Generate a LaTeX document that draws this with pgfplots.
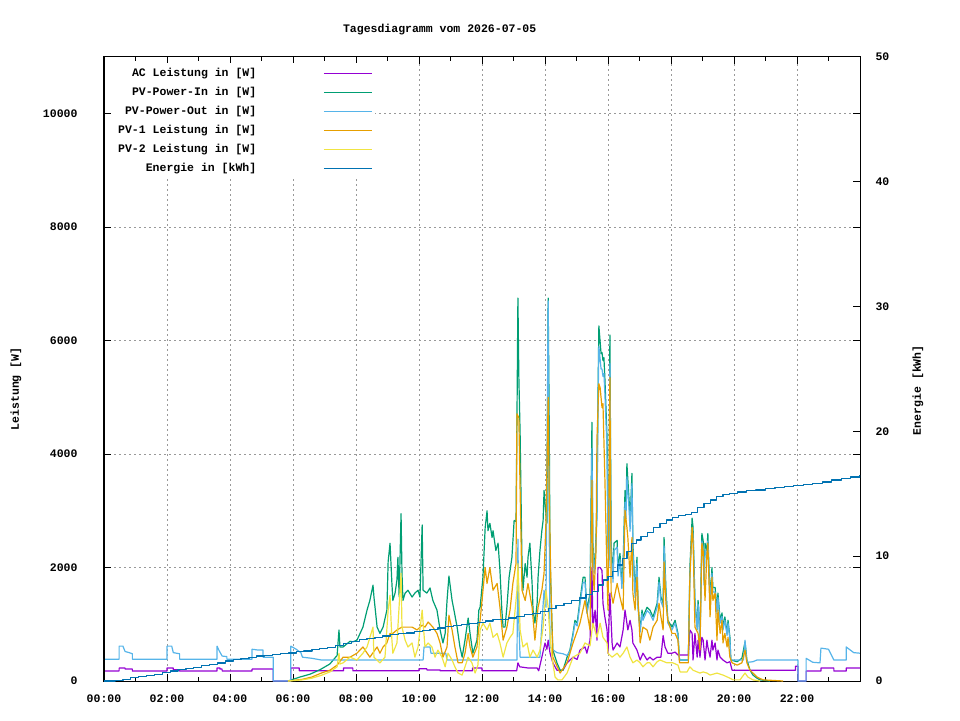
\documentclass[border=0pt]{standalone}
\usepackage{fontspec}
\usepackage{pgfplots}
\pgfplotsset{compat=1.18}
\newfontfamily\gp{Liberation Mono}
\newcommand\gpf{\gp\bfseries\fontsize{11.5}{13}\selectfont}
\definecolor{cAC}{HTML}{9400D3}
\definecolor{cIn}{HTML}{009E73}
\definecolor{cOut}{HTML}{56B4E9}
\definecolor{cPA}{HTML}{E69F00}
\definecolor{cPB}{HTML}{F0E442}
\definecolor{cEn}{HTML}{0072B2}
\pgfplotsset{
  gpbase/.style={
    at={(104pt,39pt)}, anchor=south west, scale only axis,
    width=756pt, height=624pt, xmin=0, xmax=24,
    scaled x ticks=false, scaled y ticks=false,
    tick align=inside, major tick length=7pt, minor tick length=4pt,
    every tick/.style={black, line width=1pt},
    axis line style={line width=1pt},
    tick label style={font=\gpf},
    label style={font=\gpf},
    every axis plot/.append style={no markers, line width=1.2pt, line join=round},
  }
}
\begin{document}
\begin{tikzpicture}
\path[use as bounding box] (0,0) rectangle (960pt,720pt);
\begin{axis}[gpbase,
  ymin=0, ymax=11000,
  xtick={0,2,...,22},
  xticklabels={00:00,02:00,04:00,06:00,08:00,10:00,12:00,14:00,16:00,18:00,20:00,22:00},
  minor xtick={1,3,...,23},
  ytick={0,2000,4000,6000,8000,10000},
  yticklabels={0,2000,4000,6000,8000,10000},
  yticklabel style={xshift=-23pt},
  xticklabel style={yshift=-10pt},
  grid=major,
  major grid style={black!40, line width=1pt, dash pattern=on 2pt off 3pt},
  title={Tagesdiagramm vom 2026-07-05},
  title style={font=\gpf, at={(axis description cs:0.444,1.035)}, anchor=center},
  ylabel={Leistung [W]},
  ylabel style={at={(axis description cs:-0.1164,0.468)}, anchor=center},
  legend plot pos=right, legend cell align=right,
  legend image code/.code={\draw[#1,line width=1.2pt] (0pt,0pt) -- (48pt,0pt);},
  legend style={at={(axis description cs:0,1)}, anchor=north west, xshift=9pt, yshift=-6pt,
    fill=white, draw=none, font=\gpf, inner sep=3pt, row sep=4.5pt, column sep=65pt,
    nodes={inner ysep=2pt, text height=8pt, text depth=2.5pt}},
]
% AC Leistung
\addplot[cAC] coordinates {(0,176)(0.48,176)(0.48,229)(0.67,229)(0.67,210)(0.9,210)(0.9,176)(2.0,176)(2.0,229)(2.2,229)(2.2,200)(2.4,200)(2.4,176)(3.59,176)(3.59,229)(3.68,229)(3.68,210)(3.75,210)(3.75,176)(4.7,176)(4.7,210)(5.37,210)(5.37,0)(5.93,0)(5.93,229)(6.2,229)(6.2,180)(7.6,180)(7.6,229)(7.9,229)(7.9,180)(10.0,180)(10.0,215)(10.25,215)(10.25,195)(10.67,195)(10.67,180)(11.7,180)(11.7,229)(12.0,229)(12.0,180)(13.1,180)(13.14,320)(13.2,250)(13.45,230)(13.75,230)(13.8,180)(13.9,420)(14.0,670)(14.06,560)(14.1,720)(14.16,490)(14.25,320)(14.38,190)(14.57,190)(14.7,320)(14.89,420)(15.02,380)(15.11,545)(15.27,600)(15.33,490)(15.43,720)(15.49,2000)(15.52,950)(15.59,1250)(15.65,720)(15.68,2000)(15.75,2000)(15.81,1950)(15.84,1370)(15.9,1130)(15.97,900)(16.0,490)(16.06,1550)(16.13,670)(16.16,545)(16.29,670)(16.38,600)(16.48,900)(16.54,1250)(16.6,1020)(16.63,900)(16.7,1070)(16.76,900)(16.79,670)(16.92,545)(17.02,370)(17.11,490)(17.24,370)(17.33,420)(17.43,370)(17.56,420)(17.68,420)(17.75,800)(17.81,600)(17.9,490)(18.03,490)(18.13,510)(18.22,460)(18.55,460)(18.6,900)(18.67,840)(18.7,370)(18.76,840)(18.83,420)(18.86,720)(18.92,420)(18.98,770)(19.02,720)(19.08,370)(19.14,720)(19.17,600)(19.24,420)(19.3,720)(19.33,545)(19.4,670)(19.46,370)(19.49,545)(19.56,420)(19.65,370)(19.78,320)(19.87,340)(19.94,190)(21.95,190)(21.95,260)(22.03,260)(22.03,0)(22.29,0)(22.29,176)(22.76,176)(22.76,229)(23.17,229)(23.17,176)(23.56,176)(23.56,229)(24,229)};
\addlegendentry{AC Leistung in [W]}
% PV-Power-In
\addplot[cIn] coordinates {(5.84,0)(6.0,30)(6.22,70)(6.54,120)(6.86,200)(7.17,300)(7.4,450)(7.46,900)(7.49,600)(7.59,600)(7.81,700)(7.9,690)(8.03,720)(8.13,840)(8.22,950)(8.35,1250)(8.44,1420)(8.54,1690)(8.57,1480)(8.67,950)(8.76,840)(8.86,950)(8.98,1250)(9.02,2100)(9.08,2430)(9.14,1720)(9.17,1420)(9.24,1550)(9.3,1780)(9.33,2180)(9.37,1480)(9.43,2950)(9.46,1900)(9.49,1420)(9.56,1550)(9.65,1600)(9.78,1480)(9.87,1550)(9.97,1600)(10.03,1480)(10.1,2750)(10.13,1600)(10.25,1550)(10.35,1640)(10.44,1420)(10.57,1250)(10.67,900)(10.76,670)(10.83,840)(10.89,1420)(10.95,1850)(11.05,1420)(11.11,1250)(11.21,950)(11.3,600)(11.37,420)(11.46,720)(11.56,1110)(11.62,840)(11.71,490)(11.84,720)(11.9,1250)(11.94,1300)(12.03,1830)(12.1,2700)(12.16,3000)(12.19,2650)(12.25,2780)(12.32,2530)(12.35,2650)(12.44,2300)(12.51,2430)(12.57,1950)(12.63,1250)(12.67,950)(12.73,950)(12.79,1300)(12.86,1830)(12.95,2180)(13.02,2830)(13.08,2810)(13.11,4640)(13.14,6750)(13.17,5350)(13.21,4360)(13.27,2070)(13.3,1600)(13.37,2070)(13.43,1830)(13.46,2180)(13.52,2430)(13.59,1720)(13.62,1250)(13.68,1020)(13.75,1370)(13.78,1830)(13.84,2300)(13.9,2650)(13.94,2830)(13.97,3360)(14.0,3130)(14.06,2780)(14.1,6750)(14.13,4820)(14.16,2180)(14.22,1020)(14.25,545)(14.38,320)(14.48,190)(14.57,190)(14.7,420)(14.79,545)(14.89,840)(14.95,1070)(15.02,1020)(15.11,1420)(15.21,1830)(15.27,1830)(15.33,1250)(15.37,1370)(15.43,1550)(15.49,4560)(15.52,2430)(15.56,2000)(15.59,2130)(15.65,3010)(15.68,4940)(15.71,6260)(15.78,5770)(15.81,5790)(15.84,5650)(15.87,5700)(15.9,5350)(15.97,4290)(16.0,2480)(16.03,2130)(16.06,6100)(16.1,2430)(16.16,1830)(16.19,2430)(16.29,2480)(16.32,1950)(16.38,2250)(16.44,1720)(16.48,2070)(16.54,3360)(16.57,3010)(16.6,3830)(16.67,3180)(16.7,2780)(16.76,3660)(16.79,2430)(16.86,1550)(16.92,2180)(16.95,1370)(17.02,900)(17.08,1250)(17.11,1130)(17.24,1300)(17.33,1250)(17.43,1130)(17.56,1370)(17.62,1830)(17.68,1480)(17.75,1370)(17.78,2530)(17.84,1600)(17.9,1070)(18.03,950)(18.13,1070)(18.22,840)(18.27,370)(18.55,370)(18.6,2000)(18.67,2870)(18.7,2710)(18.76,1420)(18.83,950)(18.86,1420)(18.92,720)(18.98,2600)(19.02,2480)(19.05,1780)(19.08,2430)(19.14,2300)(19.17,2600)(19.24,1420)(19.3,2000)(19.33,1650)(19.4,1650)(19.46,1250)(19.49,1550)(19.56,1070)(19.62,1200)(19.65,950)(19.71,1130)(19.78,840)(19.81,1070)(19.87,770)(19.9,370)(20.1,340)(20.25,400)(20.35,690)(20.41,370)(20.51,190)(20.6,105)(20.73,50)(20.83,20)(21.05,5)(21.14,0)};
\addlegendentry{PV-Power-In in [W]}
% PV-Power-Out
\addplot[cOut] coordinates {(0,385)(0.48,385)(0.48,615)(0.6,615)(0.67,520)(0.8,500)(0.9,480)(0.9,385)(2.0,385)(2.0,615)(2.15,615)(2.2,500)(2.4,480)(2.4,385)(3.59,385)(3.59,615)(3.65,540)(3.75,440)(3.9,430)(3.9,385)(4.7,385)(4.7,560)(4.9,545)(5.05,545)(5.05,420)(5.37,420)(5.37,0)(5.93,0)(5.93,615)(6.1,560)(6.25,500)(6.3,420)(6.6,400)(6.9,370)(10.13,370)(10.16,600)(10.35,600)(10.38,490)(10.85,490)(10.89,370)(13.11,370)(13.14,2500)(13.17,1000)(13.21,420)(13.84,420)(13.9,1000)(13.97,1600)(14.03,1300)(14.1,6700)(14.13,3000)(14.16,600)(14.25,550)(14.38,500)(14.57,480)(14.7,450)(14.79,520)(14.89,800)(14.95,1020)(15.02,970)(15.11,1350)(15.21,1740)(15.27,1740)(15.33,1190)(15.37,1300)(15.43,1470)(15.49,4100)(15.52,2300)(15.56,1900)(15.59,2020)(15.65,2860)(15.68,4700)(15.71,5900)(15.78,5500)(15.81,5500)(15.84,5370)(15.87,5420)(15.9,5080)(15.97,4080)(16.0,2360)(16.03,2020)(16.06,5600)(16.1,2300)(16.16,1740)(16.19,2300)(16.29,2360)(16.32,1850)(16.38,2140)(16.44,1630)(16.48,1970)(16.54,3150)(16.57,2860)(16.6,3600)(16.67,3020)(16.7,2640)(16.76,3480)(16.79,2310)(16.86,1470)(16.92,2070)(16.95,1300)(17.02,860)(17.08,1190)(17.11,1070)(17.24,1240)(17.33,1190)(17.43,1070)(17.56,1300)(17.62,1740)(17.68,1400)(17.75,1300)(17.78,2380)(17.84,1520)(17.9,1020)(18.03,900)(18.13,1020)(18.22,800)(18.27,370)(18.55,370)(18.6,1900)(18.67,2700)(18.7,2580)(18.76,1350)(18.83,900)(18.86,1350)(18.92,690)(18.98,2470)(19.02,2360)(19.05,1690)(19.08,2310)(19.14,2190)(19.17,2470)(19.24,1350)(19.3,1900)(19.33,1570)(19.4,1570)(19.46,1190)(19.49,1470)(19.56,1020)(19.62,1140)(19.65,900)(19.71,1070)(19.78,800)(19.81,1020)(19.87,730)(19.9,370)(20.3,370)(20.35,720)(20.4,370)(20.44,330)(20.6,340)(20.73,370)(22.03,370)(22.03,0)(22.29,0)(22.29,400)(22.5,330)(22.73,320)(22.76,580)(23.0,560)(23.17,370)(23.56,370)(23.56,600)(23.8,500)(24,490)};
\addlegendentry{PV-Power-Out in [W]}
% PV-1
\addplot[cPA] coordinates {(5.84,0)(6.3,30)(6.6,70)(6.9,140)(7.17,190)(7.4,280)(7.59,420)(7.81,420)(8.03,490)(8.22,600)(8.44,420)(8.67,600)(8.76,490)(8.86,600)(8.98,670)(9.08,840)(9.17,840)(9.3,900)(9.46,950)(9.62,950)(9.78,950)(9.94,900)(10.1,985)(10.19,950)(10.29,1040)(10.44,950)(10.57,840)(10.67,670)(10.76,420)(10.89,600)(10.95,1160)(11.05,900)(11.14,600)(11.24,320)(11.37,320)(11.46,490)(11.56,840)(11.62,600)(11.71,420)(11.84,600)(11.9,950)(11.94,1070)(12.1,2000)(12.16,1720)(12.25,2000)(12.35,1600)(12.48,1720)(12.57,1300)(12.67,720)(12.79,950)(12.89,1250)(12.98,1720)(13.08,2070)(13.11,4710)(13.17,4640)(13.21,3360)(13.27,1600)(13.37,1420)(13.46,1720)(13.59,1300)(13.68,720)(13.78,1300)(13.9,1600)(13.97,1900)(14.03,2780)(14.1,5000)(14.13,3360)(14.19,1600)(14.25,420)(14.48,140)(14.7,320)(14.89,670)(15.11,1020)(15.27,1420)(15.43,900)(15.49,3540)(15.52,1950)(15.56,1600)(15.62,2300)(15.65,4290)(15.71,5240)(15.75,5170)(15.81,4820)(15.84,4890)(15.9,3590)(15.97,1830)(16.0,1250)(16.06,5350)(16.1,1550)(16.16,1370)(16.29,1720)(16.38,1480)(16.48,1250)(16.54,3010)(16.6,2710)(16.63,2530)(16.7,1830)(16.76,2530)(16.79,1550)(16.86,1250)(16.92,1830)(17.02,670)(17.11,950)(17.24,900)(17.33,720)(17.43,950)(17.56,1070)(17.62,1370)(17.68,1130)(17.75,900)(17.78,2100)(17.84,1370)(17.9,1070)(18.03,840)(18.13,840)(18.22,720)(18.27,320)(18.55,320)(18.6,1830)(18.67,2710)(18.7,2480)(18.76,950)(18.86,840)(18.92,545)(18.98,2430)(19.02,2300)(19.08,1420)(19.14,2250)(19.17,2430)(19.24,1130)(19.3,1830)(19.33,1420)(19.4,1550)(19.46,720)(19.49,1250)(19.56,840)(19.62,1070)(19.65,670)(19.71,840)(19.78,600)(19.81,770)(19.87,420)(19.94,320)(20.1,280)(20.25,320)(20.35,545)(20.41,320)(20.51,190)(20.73,70)(20.92,20)(21.56,0)};
\addlegendentry{PV-1 Leistung in [W]}
% PV-2
\addplot[cPB] coordinates {(5.84,0)(6.3,20)(6.6,50)(6.9,100)(7.17,160)(7.4,250)(7.46,490)(7.49,300)(7.59,320)(7.81,420)(8.03,370)(8.22,490)(8.35,600)(8.54,950)(8.57,420)(8.76,320)(8.92,420)(9.02,1250)(9.08,1510)(9.14,720)(9.17,490)(9.3,670)(9.33,950)(9.43,1900)(9.46,950)(9.56,720)(9.65,600)(9.78,670)(9.87,420)(9.97,600)(10.1,1250)(10.19,600)(10.29,670)(10.41,600)(10.51,420)(10.6,545)(10.73,420)(10.83,250)(10.92,490)(11.05,370)(11.14,250)(11.24,140)(11.37,105)(11.46,250)(11.56,420)(11.68,320)(11.78,140)(11.87,280)(11.94,900)(12.03,1020)(12.16,900)(12.25,1020)(12.35,770)(12.48,840)(12.57,670)(12.67,420)(12.79,670)(12.89,770)(12.98,840)(13.11,1600)(13.14,2070)(13.21,900)(13.3,600)(13.43,670)(13.52,420)(13.62,545)(13.75,420)(13.84,545)(13.94,950)(14.03,1600)(14.1,1300)(14.13,1020)(14.22,420)(14.32,70)(14.41,20)(14.54,20)(14.7,140)(14.89,420)(15.11,490)(15.27,670)(15.43,620)(15.52,1020)(15.65,770)(15.75,1020)(15.84,770)(15.97,670)(16.0,490)(16.13,420)(16.29,490)(16.38,420)(16.48,490)(16.6,600)(16.7,420)(16.79,320)(16.92,370)(17.02,320)(17.11,250)(17.24,320)(17.33,320)(17.43,250)(17.56,340)(17.65,370)(17.87,320)(18.06,320)(18.22,280)(18.29,160)(18.51,160)(18.6,250)(18.7,190)(18.83,160)(18.92,140)(19.02,160)(19.14,140)(19.24,105)(19.46,140)(19.65,105)(19.87,50)(19.97,20)(20.19,20)(20.35,140)(20.44,70)(20.6,20)(20.83,0)};
\addlegendentry{PV-2 Leistung in [W]}
\addlegendimage{cEn, line width=1.2pt}
\addlegendentry{Energie in [kWh]}
\end{axis}
\begin{axis}[gpbase,
  ymin=0, ymax=50,
  hide x axis,
  ytick pos=right, yticklabel pos=right,
  ytick={0,10,20,30,40,50},
  yticklabels={0,10,20,30,40,50},
  yticklabel style={xshift=12pt},
  ylabel={Energie [kWh]},
  ylabel style={at={(axis description cs:1.0767,0.466)}, anchor=center},
]
\addplot[cEn, const plot] coordinates {(0,0)(0.35,0.05)(0.6,0.15)(0.85,0.25)(1.1,0.35)(1.35,0.45)(1.6,0.55)(1.85,0.7)(2.1,0.8)(2.35,0.9)(2.6,1.0)(2.85,1.1)(3.1,1.25)(3.35,1.35)(3.6,1.45)(3.85,1.6)(4.1,1.7)(4.35,1.8)(4.6,1.9)(4.85,2.0)(5.1,2.05)(5.35,2.15)(5.6,2.2)(5.85,2.25)(6.1,2.35)(6.35,2.4)(6.6,2.5)(6.85,2.6)(7.1,2.7)(7.35,2.85)(7.6,3.0)(7.85,3.15)(8.1,3.3)(8.35,3.4)(8.6,3.5)(8.85,3.6)(9.1,3.7)(9.35,3.8)(9.6,3.85)(9.85,3.95)(10.1,4.05)(10.35,4.15)(10.6,4.25)(10.85,4.35)(11.1,4.45)(11.35,4.55)(11.6,4.6)(11.85,4.7)(12.1,4.8)(12.35,4.9)(12.6,4.95)(12.85,5.05)(13.1,5.15)(13.35,5.3)(13.6,5.4)(13.85,5.55)(14.1,5.8)(14.35,6.05)(14.6,6.2)(14.85,6.45)(15.1,6.65)(15.3,6.9)(15.5,7.2)(15.7,7.7)(15.85,8.1)(16.0,8.4)(16.15,8.8)(16.3,9.3)(16.45,9.8)(16.6,10.4)(16.75,11.0)(16.9,11.3)(17.05,11.6)(17.25,11.9)(17.45,12.3)(17.65,12.6)(17.85,12.9)(18.05,13.1)(18.25,13.25)(18.45,13.35)(18.65,13.5)(18.85,13.9)(19.05,14.2)(19.25,14.5)(19.45,14.8)(19.65,14.95)(19.85,15.05)(20.1,15.15)(20.4,15.25)(20.7,15.3)(21.0,15.4)(21.3,15.5)(21.6,15.6)(21.9,15.65)(22.2,15.75)(22.5,15.85)(22.8,15.95)(23.1,16.1)(23.4,16.2)(23.7,16.35)(24,16.5)};
\end{axis}
\end{tikzpicture}
\end{document}
